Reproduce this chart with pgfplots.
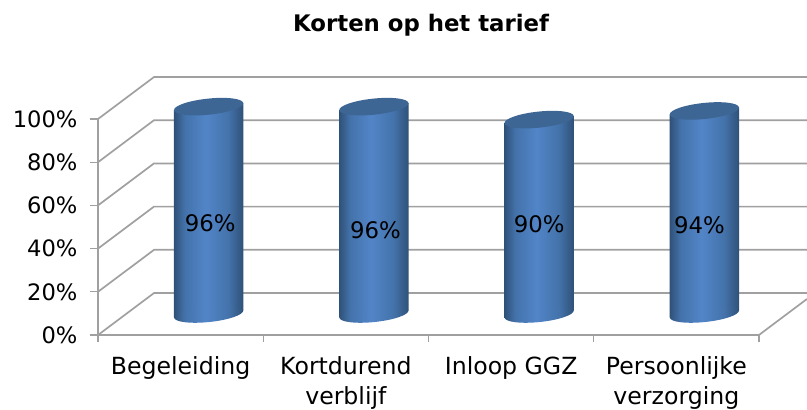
\documentclass[border=0pt]{standalone}
\usepackage{pgfplots}
\pgfplotsset{compat=1.18}
\usepackage{fontspec}
\setmainfont{DejaVu Sans}
\definecolor{gridc}{HTML}{A0A0A0}
\definecolor{cdark}{HTML}{2F5178}
\definecolor{cmed}{HTML}{4473AB}
\definecolor{cmid}{HTML}{5285C8}
\definecolor{ctop}{HTML}{3D6694}
\pgfdeclarehorizontalshading{cyl}{100bp}{color(0bp)=(cdark);color(25bp)=(cdark);color(33bp)=(cmed);color(48bp)=(cmid);color(64bp)=(cmed);color(75bp)=(cdark);color(100bp)=(cdark)}
\pgfdeclareplotmark{cyltop}{\pgfpathellipse{\pgfpointorigin}{\pgfpoint{34.6pt}{3.6pt}}{\pgfpoint{-0.85pt}{8pt}}\pgfsetfillcolor{ctop}\pgfusepathqfill}
\pgfdeclareplotmark{cylbase}{\pgfpathellipse{\pgfpointorigin}{\pgfpoint{34.6pt}{3.6pt}}{\pgfpoint{-0.85pt}{8pt}}\pgfshadepath{cyl}{0}\pgfusepath{discard}}
\pgfplotsset{base/.style={
  at={(98pt,75pt)},anchor=south west,
  scale only axis,width=661pt,height=216pt,
  xmin=0,xmax=4,ymin=0,ymax=100,clip=false}}
\begin{document}
\begin{tikzpicture}
\path[use as bounding box] (0,0) rectangle (807pt,410pt);
\begin{axis}[base,
  axis x line=bottom,axis y line=left,
  axis line style={-,gridc,line width=1.7pt},
  xtick={0.5,1.5,2.5,3.5},
  xticklabels={Begeleiding,{Kortdurend\\verblijf},Inloop GGZ,{Persoonlijke\\verzorging}},
  minor xtick={0,1,2,3,4},
  major x tick style={draw=none},
  minor x tick style={gridc,line width=1.2pt},
  minor tick length=7pt,
  ytick={0,20,40,60,80,100},
  yticklabels={0\%,20\%,40\%,60\%,80\%,100\%},
  y tick style={gridc,line width=1.2pt},
  major tick length=8pt,tick align=outside,
  xticklabel style={font=\fontsize{23.6}{30}\selectfont,text=black,align=center,anchor=north,yshift=-10pt},
  yticklabel style={font=\fontsize{22.6}{30}\selectfont,text=black,xshift=-9pt},
  title={\textbf{Korten op het tarief}},
  title style={at={(axis description cs:0.489,1.405)},anchor=center,font=\fontsize{22.8}{26}\selectfont},
  unbounded coords=jump]
\addplot[gridc,line width=1.7pt,forget plot] coordinates {
 (0,0)(0.339,19.44)(4.29,19.44)(nan,nan)
 (0,20)(0.339,39.44)(4.29,39.44)(nan,nan)
 (0,40)(0.339,59.44)(4.29,59.44)(nan,nan)
 (0,60)(0.339,79.44)(4.29,79.44)(nan,nan)
 (0,80)(0.339,99.44)(4.29,99.44)(nan,nan)
 (0,100)(0.339,119.44)(4.29,119.44)(nan,nan)
 (4,0)(4.29,16.66)
};
\end{axis}
\begin{axis}[base,at={(126pt,96pt)},axis lines=none]
\addplot[only marks,mark=cylbase,forget plot] coordinates {(0.5,0)(1.5,0)(2.5,0)(3.5,0)};
\pgfplotsset{body/.style={draw=none,shading=cyl,forget plot}}
\addplot[body] coordinates {(0.29,94.4)(0.71,97.6)(0.71,1.6)(0.29,-1.6)} --cycle;
\addplot[body] coordinates {(1.29,94.4)(1.71,97.6)(1.71,1.6)(1.29,-1.6)} --cycle;
\addplot[body] coordinates {(2.29,88.4)(2.71,91.6)(2.71,1.6)(2.29,-1.6)} --cycle;
\addplot[body] coordinates {(3.29,92.4)(3.71,95.6)(3.71,1.6)(3.29,-1.6)} --cycle;
\addplot[only marks,mark=cyltop,forget plot] coordinates {(0.5,96)(1.5,96)(2.5,90)(3.5,94)};
\addplot[draw=none,mark=none,forget plot,
  nodes near coords,point meta=explicit symbolic,
  nodes near coords style={anchor=center,font=\fontsize{22.8}{26}\selectfont,text=black}]
  table[meta=t] {
x y t
0.51 42 96\%
1.51 39 96\%
2.50 41.5 90\%
3.47 41 94\%
};
\end{axis}
\end{tikzpicture}
\end{document}
